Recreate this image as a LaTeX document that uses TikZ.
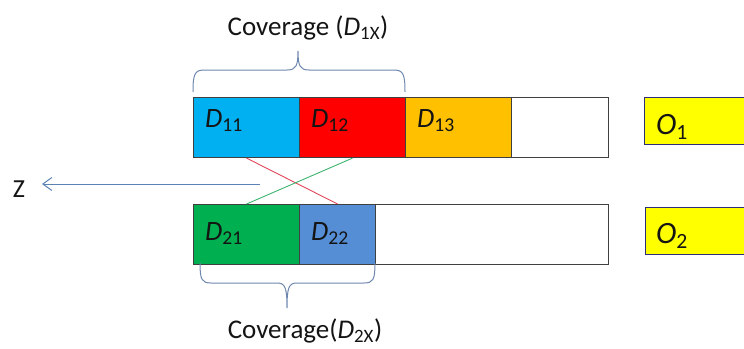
\documentclass[tikz,border=0pt]{standalone}
\usepackage{fontspec}
\setmainfont{Carlito}
\usetikzlibrary{arrows.meta}
\definecolor{cyanfill}{RGB}{0,176,240}
\definecolor{redfill}{RGB}{255,0,0}
\definecolor{orangefill}{RGB}{255,192,0}
\definecolor{greenfill}{RGB}{0,176,80}
\definecolor{bluefill}{RGB}{85,142,213}
\definecolor{yellowfill}{RGB}{255,255,0}
\definecolor{edgegray}{RGB}{64,64,64}
\definecolor{bracecol}{RGB}{110,135,175}
\definecolor{axiscol}{RGB}{90,130,180}
\definecolor{linkred}{RGB}{225,70,90}
\definecolor{linkgreen}{RGB}{60,180,110}
\definecolor{inktext}{RGB}{20,20,20}
\tikzset{
  cell/.style={draw=edgegray, line width=1.1pt, rectangle, inner sep=0pt,
    minimum height=60pt, anchor=north west},
  outbox/.style={draw=edgegray!70!blue, line width=1.1pt, rectangle, inner sep=0pt,
    minimum height=47pt, minimum width=110pt, anchor=north west, fill=yellowfill},
  lbl/.style={anchor=base west, inner sep=0pt, text=inktext,
    font=\fontsize{28}{30}\selectfont},
  olbl/.style={anchor=base west, inner sep=0pt, text=inktext,
    font=\fontsize{31}{33}\selectfont},
  covtext/.style={inner sep=0pt, text=inktext, font=\fontsize{27}{30}\selectfont},
  bracepath/.style={draw=bracecol, line width=1pt},
  link/.style={line width=0.9pt}
}
\newcommand{\dsub}[1]{\textit{D}\textsubscript{#1}}
\begin{document}
\begin{tikzpicture}[x=1pt,y=-1pt]
\useasboundingbox (0,0) rectangle (744,348);
\clip (0,0) rectangle (744,348);

% first row of segments
\node[cell, fill=cyanfill,   minimum width=106pt] (d11) at (193,97) {};
\node[cell, fill=redfill,    minimum width=106pt] (d12) at (299,97) {};
\node[cell, fill=orangefill, minimum width=106pt] (d13) at (405,97) {};
\node[cell, fill=white,      minimum width=97pt]  (d1e) at (511,97) {};
\node[outbox] (o1) at (644,97) {};

% second row of segments
\node[cell, fill=greenfill, minimum width=106pt] (d21) at (193,204) {};
\node[cell, fill=bluefill,  minimum width=76pt]  (d22) at (299,204) {};
\node[cell, fill=white,     minimum width=233pt] (d2e) at (375,204) {};
\node[outbox] (o2) at (645,207) {};

% segment labels
\node[lbl] (t11) at (205,127) {\dsub{11}};
\node[lbl] (t12) at (311,127) {\dsub{12}};
\node[lbl] (t13) at (417,127) {\dsub{13}};
\node[lbl] (t21) at (205,240) {\dsub{21}};
\node[lbl] (t22) at (311,240) {\dsub{22}};
\node[olbl] (to1) at (656,134) {\textit{O}\textsubscript{1}};
\node[olbl] (to2) at (656,243) {\textit{O}\textsubscript{2}};

% crossing links between the rows
\draw[link, draw=linkred]   (d11.south) -- (d22.north);
\draw[link, draw=linkgreen] (d12.south) -- (d21.north);

% z axis
\node[inktext, inner sep=0pt, font=\fontsize{26}{28}\selectfont] (zlab) at (19,189) {Z};
\coordinate (zstart) at (260,184);
\coordinate (zend) at (42,184);
\draw[draw=axiscol, line width=1pt, -{Straight Barb[length=9pt,width=13pt]}] (zstart) -- (zend);

% upper brace
\draw[bracepath] (193,92) .. controls (193,73) and (195,70) .. (205,70)
  -- (287,70) .. controls (296,70) and (298,66) .. (298,51)
  .. controls (298,66) and (300,70) .. (309,70)
  -- (393,70) .. controls (403,70) and (405,73) .. (405,92);
\node[covtext] (cov1) at (308,28) {Coverage (\textit{D}\textsubscript{1X})};

% lower brace
\draw[bracepath] (200,263) .. controls (200,280) and (202,283) .. (211,283)
  -- (277,283) .. controls (285,283) and (287,287) .. (287,308)
  .. controls (287,287) and (289,283) .. (297,283)
  -- (364,283) .. controls (373,283) and (375,280) .. (375,263);
\node[covtext] (cov2) at (305,331) {Coverage(\textit{D}\textsubscript{2X})};
\end{tikzpicture}
\end{document}
